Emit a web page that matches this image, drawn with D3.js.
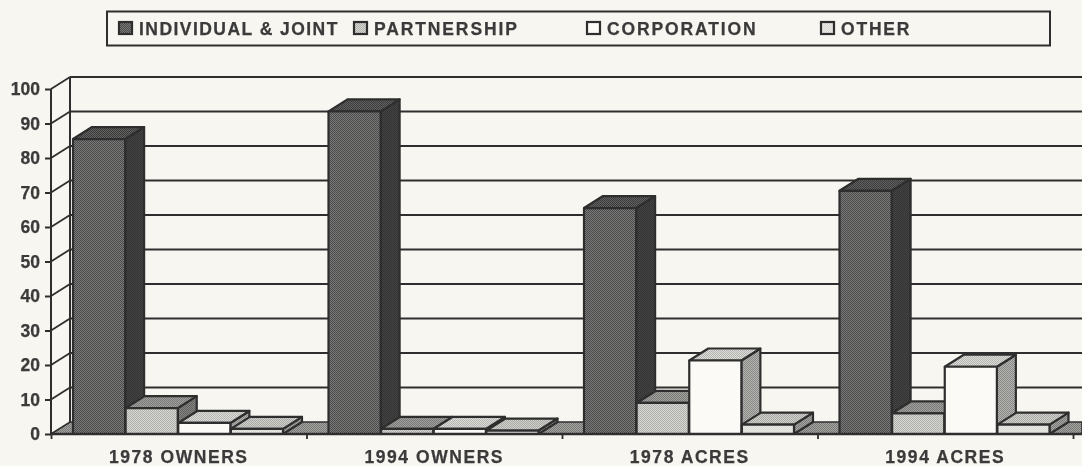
<!DOCTYPE html>
<html lang="en">
<head>
<meta charset="UTF-8">
<title>Ownership by type</title>
<script src="https://d3js.org/d3.v7.min.js"></script>
<style>
    html, body { margin: 0; padding: 0; background: #f8f6f1; overflow: hidden; }
    svg { display: block; }
    text { font-family: "Liberation Sans", Arial, sans-serif; font-weight: bold; fill: #3a3a3a; stroke: #3a3a3a; stroke-width: 0.25; }
</style>
</head>
<body>
<div id="chart"></div>
<script>
    // Values (percent)
    const groups = ['1978 OWNERS', '1994 OWNERS', '1978 ACRES', '1994 ACRES'];
    const seriesNames = ['INDIVIDUAL & JOINT', 'PARTNERSHIP', 'CORPORATION', 'OTHER'];
    const individual = [85.5, 93.5, 65.5, 70.5];
    const partnership = [7.5, 1.5, 9, 6];
    const corporation = [3.2, 1.5, 21.3, 19.5];
    const other = [1.5, 1, 2.7, 2.7];
    const yTicks = [0, 10, 20, 30, 40, 50, 60, 70, 80, 90, 100];

    const seriesValues = [individual, partnership, corporation, other];

    const width = 1082, height = 466;
    const ink = '#2e2e2e';
    const dx = 19, dy = 12;   // depth of the 3d look

    const svg = d3.select('#chart').append('svg')
        .attr('width', width)
        .attr('height', height);

    const defs = svg.append('defs');

    // halftone fills, like the printed original
    function halftone(id, base, dot) {
        const p = defs.append('pattern')
            .attr('id', id)
            .attr('width', 2).attr('height', 2)
            .attr('patternUnits', 'userSpaceOnUse');
        p.append('rect').attr('width', 2).attr('height', 2).attr('fill', base);
        p.append('rect').attr('width', 1).attr('height', 1).attr('fill', dot);
        p.append('rect').attr('x', 1).attr('y', 1).attr('width', 1).attr('height', 1).attr('fill', dot);
    }
    halftone('s0front', '#7c7c7a', '#4a4a4a');
    halftone('s0top', '#626260', '#3a3a3a');
    halftone('s0side', '#444444', '#303030');
    halftone('s1front', '#d6d6d2', '#b0b0ac');
    halftone('s1top', '#a0a09c', '#7a7a78');
    halftone('s1side', '#848482', '#626260');
    halftone('s2top', '#dcdcd8', '#b4b4b0');
    halftone('s2side', '#b4b4b0', '#888886');
    halftone('s3front', '#ecebe6', '#d8d8d3');
    halftone('s3top', '#d0d0cc', '#a8a8a4');
    halftone('s3side', '#a4a4a0', '#7c7c7a');
    halftone('floor', '#a4a4a0', '#787876');

    const faces = [
        { front: 'url(#s0front)', top: 'url(#s0top)', side: 'url(#s0side)' },
        { front: 'url(#s1front)', top: 'url(#s1top)', side: 'url(#s1side)' },
        { front: '#fbfaf6', top: 'url(#s2top)', side: 'url(#s2side)' },
        { front: 'url(#s3front)', top: 'url(#s3top)', side: 'url(#s3side)' }
    ];

    defs.append('filter').attr('id', 'scan')
        .attr('x', 0).attr('y', 0).attr('width', 1).attr('height', 1)
        .append('feGaussianBlur').attr('stdDeviation', 0.45);

    const root = svg.append('g').attr('filter', 'url(#scan)');
    root.append('rect').attr('width', width).attr('height', height).attr('fill', '#f8f6f1');

    const y = d3.scaleLinear().domain([0, 100]).range([434, 89]);
    const x = d3.scaleBand().domain(groups).range([51, 1073]);
    const xEdge = d3.scaleLinear().domain([0, groups.length]).range([51, 1073]);
    const xSeries = d3.scaleBand().domain(seriesNames).range([22, 232]).paddingInner(0.01);

    // legend
    root.append('rect')
        .attr('x', 107).attr('y', 11.5)
        .attr('width', 943).attr('height', 34)
        .attr('fill', 'none').attr('stroke', ink).attr('stroke-width', 2);

    const legendX = d3.scaleOrdinal().domain(seriesNames).range([119, 354, 587, 821]);
    const legendSpacing = d3.scaleOrdinal().domain(seriesNames).range([1.45, 1.87, 1.87, 1.8]);
    const legendItem = root.selectAll('.legend-item')
        .data(seriesNames)
        .join('g')
        .attr('class', 'legend-item')
        .attr('transform', d => `translate(${legendX(d)},22)`);
    legendItem.append('rect')
        .attr('width', 13).attr('height', 12)
        .attr('fill', (d, i) => faces[i].front)
        .attr('stroke', ink).attr('stroke-width', 2.2);
    legendItem.append('text')
        .attr('x', 20).attr('y', 12.8)
        .attr('font-size', 17.5)
        .attr('letter-spacing', d => legendSpacing(d))
        .text(d => d);

    // back wall gridlines
    root.selectAll('.grid')
        .data(yTicks.slice(1))
        .join('line')
        .attr('class', 'grid')
        .attr('x1', 51 + dx).attr('x2', width)
        .attr('y1', d => y(d) - dy).attr('y2', d => y(d) - dy)
        .attr('stroke', ink).attr('stroke-width', 2);

    // side wall diagonals
    root.selectAll('.diag')
        .data(yTicks.slice(1))
        .join('line')
        .attr('class', 'diag')
        .attr('x1', 51).attr('x2', 51 + dx)
        .attr('y1', d => y(d)).attr('y2', d => y(d) - dy)
        .attr('stroke', ink).attr('stroke-width', 1.8);

    root.append('line')
        .attr('x1', 51 + dx).attr('x2', 51 + dx)
        .attr('y1', y(100) - dy).attr('y2', y(0) - dy)
        .attr('stroke', ink).attr('stroke-width', 2);

    // floor
    root.append('path')
        .attr('d', `M51,${y(0)}L${51 + dx},${y(0) - dy}H${width}V${y(0)}Z`)
        .attr('fill', 'url(#floor)')
        .attr('stroke', ink).attr('stroke-width', 1.6);

    // bars, left to right so each front covers the previous side
    const barData = groups.flatMap((g, gi) => seriesNames.map((s, si) => ({
        group: g, series: s, si: si, value: seriesValues[si][gi]
    })));

    const bar = root.selectAll('.bar')
        .data(barData)
        .join('g')
        .attr('class', 'bar')
        .attr('stroke', ink)
        .attr('stroke-width', 2.2)
        .attr('stroke-linejoin', 'round');

    const left = d => x(d.group) + xSeries(d.series);
    const right = d => left(d) + xSeries.bandwidth();

    bar.append('path') // side
        .attr('fill', d => faces[d.si].side)
        .attr('d', d => `M${right(d)},${y(0)}L${right(d) + dx},${y(0) - dy}V${y(d.value) - dy}L${right(d)},${y(d.value)}Z`);
    bar.append('path') // top
        .attr('fill', d => faces[d.si].top)
        .attr('d', d => `M${left(d)},${y(d.value)}L${left(d) + dx},${y(d.value) - dy}H${right(d) + dx}L${right(d)},${y(d.value)}Z`);
    bar.append('rect') // front
        .attr('fill', d => faces[d.si].front)
        .attr('x', left)
        .attr('y', d => y(d.value))
        .attr('width', xSeries.bandwidth())
        .attr('height', d => y(0) - y(d.value));

    // axes
    const yAxis = root.append('g')
        .attr('transform', 'translate(51,0)')
        .call(d3.axisLeft(y).tickValues(yTicks).tickSize(6).tickPadding(5));
    yAxis.selectAll('text').attr('font-size', 17.5).attr('font-family', null);
    yAxis.selectAll('line, path').attr('stroke', ink).attr('stroke-width', 2);
    yAxis.select('.domain').attr('d', `M0,${y(100)}V${y(0)}`);

    const xTicks = root.append('g')
        .attr('transform', `translate(0,${y(0)})`)
        .call(d3.axisBottom(xEdge).tickValues(d3.range(groups.length + 1)).tickSize(5).tickFormat(''));
    xTicks.selectAll('line').attr('stroke', ink).attr('stroke-width', 1.8);
    xTicks.select('.domain').attr('d', `M51,0H${width}`).attr('stroke', ink).attr('stroke-width', 2.4);

    const xLabels = root.append('g')
        .attr('transform', `translate(0,${y(0)})`)
        .call(d3.axisBottom(x).tickSize(0).tickPadding(17));
    xLabels.select('.domain').remove();
    xLabels.selectAll('text').attr('font-size', 17.5).attr('font-family', null).attr('letter-spacing', 1.55);
</script>
</body>
</html>
